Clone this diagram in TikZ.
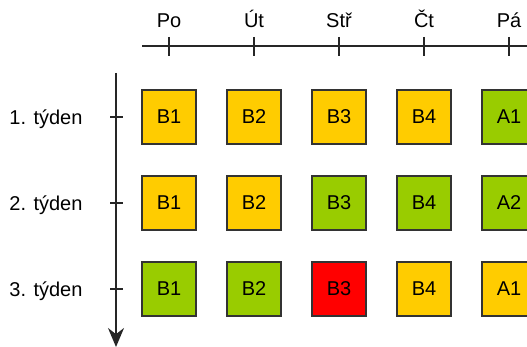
\documentclass[tikz,border=0pt]{standalone}
\usepackage{fontspec}
\setmainfont{Liberation Sans}
\usetikzlibrary{arrows.meta,positioning}
\definecolor{plan}{HTML}{FFCC00}
\definecolor{hotovo}{HTML}{99CC00}
\definecolor{zpozdeni}{HTML}{FF0000}
\tikzstyle{ukol} = [rectangle, draw=black!80, line width=1.2pt,
    minimum size=54pt, inner sep=0pt]
\tikzstyle{osa} = [line width=1.3pt, draw=black!85]

\begin{document}
\begin{tikzpicture}[x=1pt,y=-1pt,node distance=85pt,
                    font=\fontsize{20}{24}\selectfont]
  \useasboundingbox (0,0) rectangle (527,347);
  \clip (0,0) rectangle (527,347);

  % dny
  \node[anchor=base] (po)  at (169,28) {Po};
  \node[anchor=base] (ut)  at (254,28) {Út};
  \node[anchor=base] (st)  at (339,28) {Stř};
  \node[anchor=base] (ct)  at (424,28) {Čt};
  \node[anchor=base] (pa)  at (509,28) {Pá};

  % tydny
  \node[anchor=east] (t1) at (86,119) {1. týden};
  \node[anchor=east] (t2) at (86,205) {2. týden};
  \node[anchor=east] (t3) at (86,291) {3. týden};

  % ukoly
  \node[ukol,fill=plan]     (b11) at (169,117)    {B1};
  \node[ukol,fill=plan]     (b12) [right of=b11] {B2};
  \node[ukol,fill=plan]     (b13) [right of=b12] {B3};
  \node[ukol,fill=plan]     (b14) [right of=b13] {B4};
  \node[ukol,fill=hotovo]   (a15) [right of=b14] {A1};

  \node[ukol,fill=plan]     (b21) at (169,203)    {B1};
  \node[ukol,fill=plan]     (b22) [right of=b21] {B2};
  \node[ukol,fill=hotovo]   (b23) [right of=b22] {B3};
  \node[ukol,fill=hotovo]   (b24) [right of=b23] {B4};
  \node[ukol,fill=hotovo]   (a25) [right of=b24] {A2};

  \node[ukol,fill=hotovo]   (b31) at (169,289)    {B1};
  \node[ukol,fill=hotovo]   (b32) [right of=b31] {B2};
  \node[ukol,fill=zpozdeni] (b33) [right of=b32] {B3};
  \node[ukol,fill=plan]     (b34) [right of=b33] {B4};
  \node[ukol,fill=plan]     (a35) [right of=b34] {A1};

  % osy
  \coordinate (xstart) at (142,46);
  \coordinate (xend)   at (530,46);
  \coordinate (ystart) at (116,73);
  \coordinate (yend)   at (116,347);
  \draw[osa] (xstart) -- (xend);
  \draw[osa,-{Stealth[length=19pt,width=16pt]}] (ystart) -- (yend);

  \draw[osa] (po |- 0,37) -- (po |- 0,56);
  \draw[osa] (ut |- 0,37) -- (ut |- 0,56);
  \draw[osa] (st |- 0,37) -- (st |- 0,56);
  \draw[osa] (ct |- 0,37) -- (ct |- 0,56);
  \draw[osa] (pa |- 0,37) -- (pa |- 0,56);

  \draw[osa] (110,0 |- b11) -- (123,0 |- b11);
  \draw[osa] (110,0 |- b21) -- (123,0 |- b21);
  \draw[osa] (110,0 |- b31) -- (123,0 |- b31);
\end{tikzpicture}
\end{document}
